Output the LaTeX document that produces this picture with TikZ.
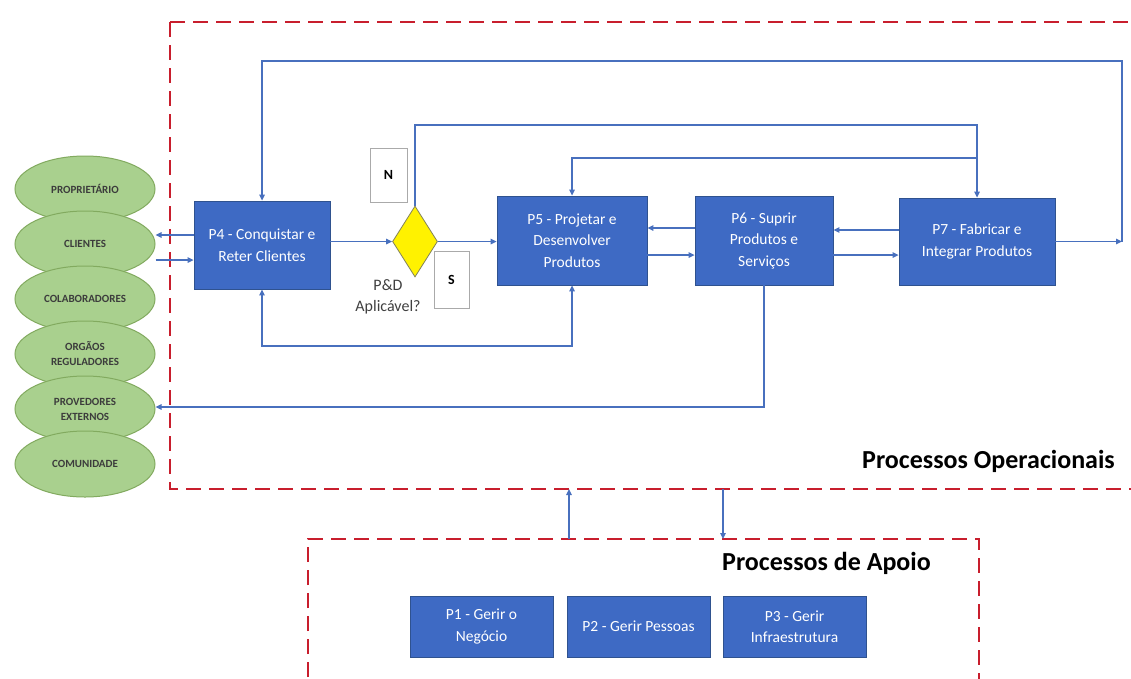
\documentclass[tikz,border=0pt]{standalone}
\usepackage{fontspec}
\setmainfont{Carlito}
\usetikzlibrary{shapes.geometric,arrows.meta}
\definecolor{boxblue}{RGB}{62,106,196}
\definecolor{boxedge}{RGB}{47,82,143}
\definecolor{linkblue}{RGB}{72,112,190}
\definecolor{dashred}{RGB}{200,30,45}
\definecolor{elfill}{RGB}{169,208,142}
\definecolor{eledge}{RGB}{130,170,95}
\definecolor{eltext}{RGB}{60,60,60}
\definecolor{framegray}{RGB}{170,170,170}
\definecolor{dtext}{RGB}{64,64,64}
\tikzset{
  procbox/.style={rectangle, fill=boxblue, draw=boxedge, line width=0.8pt, text=white, align=center, inner sep=2pt, font=\fontsize{15.5}{21.5}\selectfont},
  stakeholder/.style={ellipse, fill=elfill, draw=eledge, line width=1pt, minimum width=140pt, minimum height=66pt, inner sep=0pt, text=eltext, align=center, font=\bfseries\fontsize{11}{15}\selectfont},
  decision/.style={diamond, fill=yellow, draw={rgb,255:red,130;green,130;blue,90}, line width=0.8pt, minimum width=45pt, minimum height=71pt, inner sep=0pt},
  flagbox/.style={rectangle, draw=framegray, fill=white, line width=0.8pt, font=\bfseries\fontsize{14}{16}\selectfont, inner sep=0pt},
  link/.style={draw=linkblue, line width=1.3pt, -{Triangle[length=6pt,width=5.5pt]}},
  link2/.style={draw=linkblue, line width=1.3pt, {Triangle[length=6pt,width=5.5pt]}-{Triangle[length=6pt,width=5.5pt]}},
  groupframe/.style={draw=dashred, line width=2pt, dash pattern=on 15pt off 8pt},
  grouptitle/.style={font=\bfseries\fontsize{26}{29}\selectfont, text=black, inner sep=0pt}
}
\begin{document}
\begin{tikzpicture}[x=1pt,y=-1pt]
\useasboundingbox[fill=white] (0,0) rectangle (1131,678);

% group frames
\draw[groupframe] (170,22) -- (1145,22);
\draw[groupframe] (170,22) -- (170,489) -- (1145,489);
\draw[groupframe] (308,700) -- (308,539) -- (979,539) -- (979,700);
\node[grouptitle, anchor=east] (opTitle) at (1115,461) {Processos Operacionais};
\node[grouptitle, anchor=west] (apTitle) at (722,563) {Processos de Apoio};

% stakeholders
\node[stakeholder] (E1) at (85,189) {PROPRIETÁRIO};
\node[stakeholder] (E2) at (85,244) {CLIENTES};
\node[stakeholder] (E3) at (85,299) {COLABORADORES};
\node[stakeholder] (E4) at (85,354) {ORGÃOS\\REGULADORES};
\node[stakeholder] (E5) at (85,409) {PROVEDORES\\EXTERNOS};
\node[stakeholder] (E6) at (85,464) {COMUNIDADE};

% operational processes
\node[procbox, minimum width=136pt, minimum height=88pt] (P4) at (262,245) {P4 - Conquistar e\\Reter Clientes};
\node[decision] (D) at (415,241.5) {};
\node[procbox, minimum width=150pt, minimum height=89pt] (P5) at (572,240.5) {P5 - Projetar e\\Desenvolver\\Produtos};
\node[procbox, minimum width=138pt, minimum height=89pt] (P6) at (764,240.5) {P6 - Suprir\\Produtos e\\Serviços};
\node[procbox, minimum width=156pt, minimum height=87pt] (P7) at (977,241.5) {P7 - Fabricar e\\Integrar Produtos};

\node[flagbox, minimum width=37pt, minimum height=54pt] (N) at (388.5,175) {N};
\node[flagbox, minimum width=35pt, minimum height=57pt] (S) at (451.5,279.5) {S};
\node[align=center, text=dtext, font=\fontsize{16}{21}\selectfont, inner sep=0pt] (PD) at (388,297) {P\&D\\Aplicável?};

% support processes
\node[procbox, minimum width=143pt, minimum height=61pt] (P1) at (481.5,626.5) {P1 - Gerir o\\Negócio};
\node[procbox, minimum width=143pt, minimum height=61pt] (P2) at (638.5,626.5) {P2 - Gerir Pessoas};
\node[procbox, minimum width=143pt, minimum height=61pt] (P3) at (794.5,626.5) {P3 - Gerir\\Infraestrutura};

% coordinates
\coordinate (rc) at (1122,241.5);
\coordinate (o1) at (1122,61);
\coordinate (i1) at (415,125);
\coordinate (j1) at (977,158);
\coordinate (b1) at (262,346);
\coordinate (c6) at (764,407);
\coordinate (up1) at (569,539);
\coordinate (up2) at (569,489);
\coordinate (dn1) at (723,489);
\coordinate (dn2) at (723,539);

% connectors
\draw[link] (P4.east |- D.west) -- (D.west);
\draw[link] (D.east) -- (P5.west |- D.east);
\draw[link] (P7.east) -- (rc);
\draw[link] (rc) -- (o1) -| (P4.north);
\draw[link] (D.north) -- (i1) -| (P7.north);
\draw[link] (j1) -| (P5.north);
\draw[link2] (P4.south) -- (b1) -| (P5.south);
\draw[link] (P6.west |- 0,228) -- (P5.east |- 0,228);
\draw[link] (P5.east |- 0,255) -- (P6.west |- 0,255);
\draw[link] (P7.west |- 0,230) -- (P6.east |- 0,230);
\draw[link] (P6.east |- 0,255) -- (P7.west |- 0,255);
\draw[link] (P6.south) -- (c6) -- (E5.east |- c6);
\draw[link] (P4.west |- 0,235) -- (E2.east |- 0,235);
\draw[link] (E2.east |- 0,260) -- (P4.west |- 0,260);
\draw[link] (up1) -- (up2);
\draw[link] (dn1) -- (dn2);
\end{tikzpicture}
\end{document}
